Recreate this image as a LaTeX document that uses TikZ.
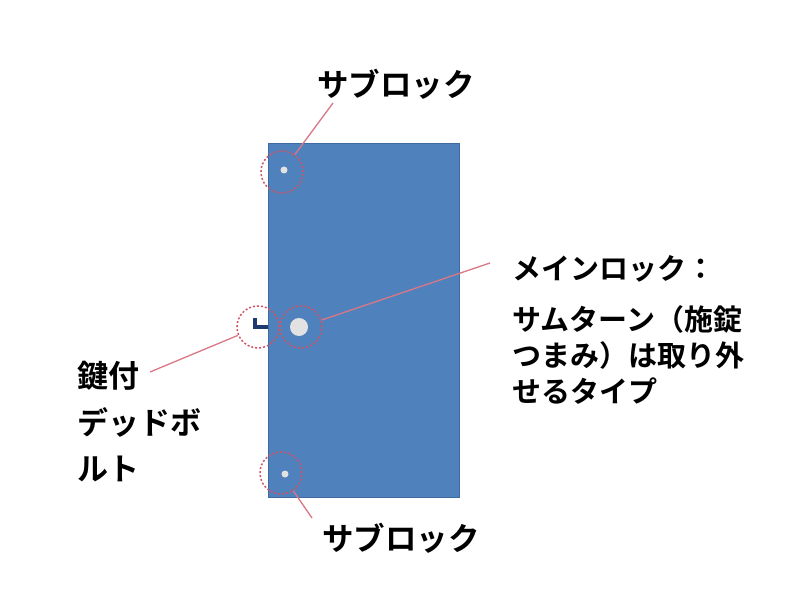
\documentclass[tikz,border=0pt]{standalone}
\usepackage{fontspec}
\newfontfamily\jp{Noto Sans CJK JP}[BoldFont={Noto Sans CJK JP Bold}]
\definecolor{doorblue}{HTML}{4F81BD}
\definecolor{doorline}{HTML}{3F6AA0}
\definecolor{boltblue}{HTML}{1F3A6E}
\definecolor{lockred}{HTML}{D05566}
\definecolor{knob}{HTML}{E2E2E2}
\tikzset{
  ring/.style={shape=circle,draw=lockred,line width=1.5pt,dash pattern=on 2pt off 2pt,minimum size=42pt,inner sep=0pt},
  leader/.style={draw=lockred!80,line width=1.3pt},
  label/.style={font=\jp\bfseries\fontsize{31.5}{36}\selectfont,inner sep=0pt}
}
\begin{document}
\begin{tikzpicture}[x=1pt,y=-1pt]
\useasboundingbox (0,0) rectangle (800,604);
\fill[white] (0,0) rectangle (800,604);
% door
\node[shape=rectangle,draw=doorline,fill=doorblue,line width=0.8pt,minimum width=191pt,minimum height=354pt,inner sep=0pt] (door) at (363.5,320) {};
% locks
\node[shape=circle,fill=knob,minimum size=7pt,inner sep=0pt] (subtopdot) at (284,170) {};
\node[shape=circle,fill=knob,minimum size=7pt,inner sep=0pt] (subbotdot) at (285,474) {};
\node[shape=circle,fill=knob,minimum size=18pt,inner sep=0pt] (maindot) at (299,327) {};
\draw[boltblue,line width=3.5pt] (255,318) -- (255,327) -- (268,327);
\node[ring] (subtop) at (282,172) {};
\node[ring] (subbot) at (281,473) {};
\node[ring] (dead) at (258,327) {};
\node[ring] (main) at (301,327) {};
% labels
\node[label] (subtoplab) at (396,84) {サブロック};
\node[label] (subbotlab) at (401,538) {サブロック};
\node[label,font=\jp\bfseries\fontsize{29}{36}\selectfont,align=left,anchor=north west] (mainlab) at (512,255) {メインロック：\\[15pt]サムターン（施錠\\つまみ）は取り外\\せるタイプ};
\node[label,font=\jp\bfseries\fontsize{31}{46.5}\selectfont,align=left,anchor=north west] (deadlab) at (77,361) {鍵付\\デッドボ\\ルト};
\coordinate (mainend) at (490,263);
\coordinate (deadend) at (150,372);
\coordinate (subtopend) at (333,103);
\coordinate (subbotend) at (312,518);
% leaders
\path [leader] (subtop) edge (subtopend);
\path [leader] (subbot) edge (subbotend);
\path [leader] (main) edge (mainend);
\path [leader] (dead) edge (deadend);
\end{tikzpicture}
\end{document}
